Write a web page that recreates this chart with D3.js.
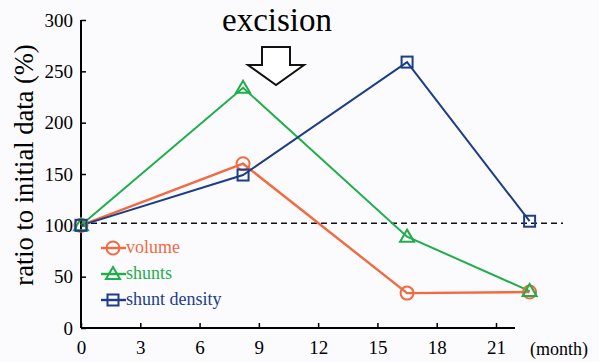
<!DOCTYPE html>
<html>
<head>
<meta charset="utf-8">
<script src="https://cdn.jsdelivr.net/npm/d3@7"></script>
<style>
body { margin: 0; background: #fbfbfe; }
</style>
</head>
<body>
<div id="chart"></div>
<script>
const width = 599,
height = 362,
margin = {top: 20, right: 103, bottom: 34, left: 81};

// months of measurement
const months = [0, 8.2, 16.5, 22.7];
const volume = [100, 160, 34, 35];
const shunts = [100, 234, 89, 36];
const density = [100, 149, 259, 104];
const baseline = 102;

const xTicks = [0, 3, 6, 9, 12, 15, 18, 21];
const yTicks = [0, 50, 100, 150, 200, 250, 300];

const series = [
  {name: "volume", values: volume, color: "#f26a3f", shape: "circle"},
  {name: "shunts", values: shunts, color: "#1fae4a", shape: "triangle"},
  {name: "shunt density", values: density, color: "#1d3e87", shape: "square"}
];

const serif = "Liberation Serif";

const svg = d3.select("#chart")
.append("svg")
.attr("width", width)
.attr("height", height)
.style("font-family", serif);

let x = d3.scaleLinear([0, 21], [margin.left, 496]);
let y = d3.scaleLinear([0, 300], [height - margin.bottom, margin.top]);

// axes
svg.append("g")
.attr("transform", `translate(0,${height - margin.bottom})`)
.call(d3.axisBottom(x).tickValues(xTicks).tickSize(-5).tickPadding(13))
.call(g => g.select(".domain").attr("d", `M${x(0)},0H515`).attr("stroke-width", 2))
.call(g => g.selectAll(".tick line").attr("stroke-width", 1.5))
.call(g => g.selectAll(".tick text").style("font-family", serif).attr("font-size", 19));

svg.append("g")
.attr("transform", `translate(${margin.left},0)`)
.call(d3.axisLeft(y).tickValues(yTicks).tickSize(-5).tickPadding(8))
.call(g => g.select(".domain").attr("d", `M0,${y(0)}V${y(300)}`).attr("stroke-width", 2))
.call(g => g.selectAll(".tick line").attr("stroke-width", 1.5))
.call(g => g.selectAll(".tick text").style("font-family", serif).attr("font-size", 19));

svg.append("text")
.attr("x", 530)
.attr("y", height - margin.bottom + 27)
.style("font-family", serif)
.attr("font-size", 18)
.text("(month)");

svg.append("text")
.attr("transform", `translate(33,${(y(0) + y(300)) / 2 - 9}) rotate(-90)`)
.attr("text-anchor", "middle")
.style("font-family", serif)
.attr("font-size", 26.5)
.text("ratio to initial data (%)");

// baseline
svg.append("line")
.attr("x1", x(0))
.attr("x2", 563)
.attr("y1", y(baseline))
.attr("y2", y(baseline))
.attr("stroke", "#111")
.attr("stroke-width", 1.6)
.attr("stroke-dasharray", "6,4");

// lines
const line = d3.line()
.x((d, i) => x(months[i]))
.y(d => y(d));

svg.selectAll(".series")
.data(series)
.join("path")
.attr("class", "series")
.attr("d", d => line(d.values))
.attr("fill", "none")
.attr("stroke", d => d.color)
.attr("stroke-width", d => d.name == "volume" ? 2.4 : 2);

function marker(g, shape, color, cx, cy) {
  if (shape == "circle") {
    g.append("circle").attr("cx", cx).attr("cy", cy).attr("r", 6.5)
    .attr("fill", "none").attr("stroke", color).attr("stroke-width", 2);
  } else if (shape == "triangle") {
    g.append("path")
    .attr("d", `M${cx},${cy - 7}L${cx + 7},${cy + 5}L${cx - 7},${cy + 5}Z`)
    .attr("fill", "none").attr("stroke", color).attr("stroke-width", 2);
  } else {
    g.append("rect").attr("x", cx - 5.5).attr("y", cy - 5.5).attr("width", 11).attr("height", 11)
    .attr("fill", "none").attr("stroke", color).attr("stroke-width", 2);
  }
}

const markers = svg.append("g");
series.forEach(s => {
  s.values.forEach((v, i) => marker(markers, s.shape, s.color, x(months[i]), y(v)));
});

// legend
series.forEach((s, i) => {
  const ly = 248 + i * 26;
  svg.append("line")
  .attr("x1", 101).attr("x2", 126)
  .attr("y1", ly).attr("y2", ly)
  .attr("stroke", s.color).attr("stroke-width", 2.4);
  marker(svg, s.shape, s.color, 113, ly);
  svg.append("text")
  .attr("x", 126)
  .attr("y", ly + 5)
  .style("font-family", serif)
  .attr("font-size", 18)
  .attr("fill", s.color)
  .text(s.name);
});

// excision arrow
const ax = 276;
svg.append("path")
.attr("d", `M${ax - 14},47H${ax + 14}V65H${ax + 28}L${ax},85L${ax - 28},65H${ax - 14}Z`)
.attr("fill", "white")
.attr("stroke", "#111")
.attr("stroke-width", 2);

svg.append("text")
.attr("x", ax + 1)
.attr("y", 31)
.attr("text-anchor", "middle")
.style("font-family", serif)
.attr("font-size", 33)
.text("excision");
</script>
</body>
</html>
